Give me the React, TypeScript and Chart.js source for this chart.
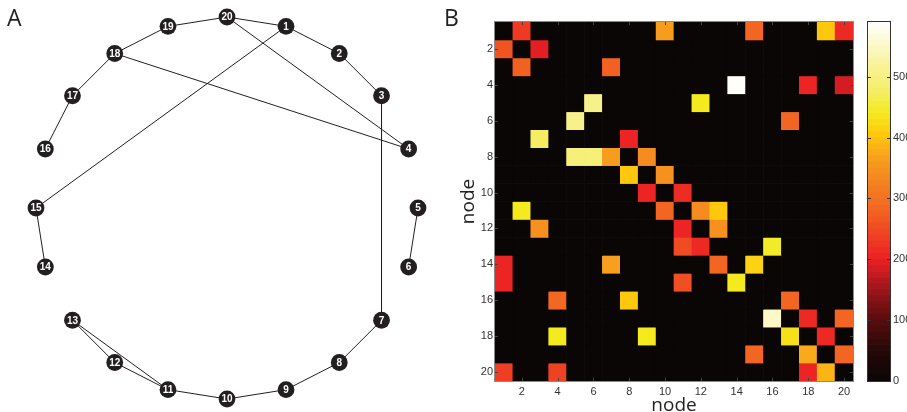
import React, { useEffect, useRef } from 'react';
import { Chart, registerables } from 'chart.js';

Chart.register(...registerables);

// ---------- Panel A: network (circular layout) ----------
const nodeNames = ['1', '2', '3', '4', '5', '6', '7', '8', '9', '10', '11', '12', '13', '14', '15', '16', '17', '18', '19', '20'];
const edgeSource = [20, 1, 2, 3, 7, 8, 9, 10, 11, 11, 12, 14, 15, 5, 16, 17, 18, 19, 20, 18];
const edgeTarget = [1, 2, 3, 7, 8, 9, 10, 11, 12, 13, 13, 15, 1, 6, 17, 18, 19, 20, 4, 4];

// ---------- Panel B: weight matrix (non-zero cells) ----------
const cellRow = [
  1, 1, 1, 1, 1,
  2, 2,
  3, 3,
  4, 4, 4,
  5, 5,
  6, 6,
  7, 7,
  8, 8, 8, 8,
  9, 9,
  10, 10,
  11, 11, 11, 11,
  12, 12, 12,
  13, 13, 13,
  14, 14, 14, 14,
  15, 15, 15,
  16, 16, 16,
  17, 17, 17,
  18, 18, 18, 18,
  19, 19, 19,
  20, 20, 20, 20,
];
const cellCol = [
  2, 10, 15, 19, 20,
  1, 3,
  2, 7,
  14, 18, 20,
  6, 12,
  5, 17,
  3, 8,
  5, 6, 7, 9,
  8, 10,
  9, 11,
  2, 10, 12, 13,
  3, 11, 13,
  11, 12, 16,
  1, 7, 13, 15,
  1, 11, 14,
  4, 8, 17,
  16, 18, 20,
  4, 9, 17, 19,
  15, 18, 20,
  1, 4, 18, 19,
];
const cellValue = [
  230, 360, 280, 405, 210,
  260, 195,
  275, 275,
  585, 205, 185,
  510, 440,
  510, 280,
  475, 205,
  490, 490, 360, 340,
  405, 345,
  205, 215,
  440, 280, 340, 405,
  345, 205, 345,
  250, 210, 445,
  205, 365, 280, 415,
  205, 255, 440,
  285, 405, 280,
  550, 210, 280,
  440, 440, 430, 210,
  280, 375, 280,
  235, 240, 205, 385,
];
const axisTickLabels = ['2', '4', '6', '8', '10', '12', '14', '16', '18', '20'];
const colorbarTicks = [0, 100, 200, 300, 400, 500];
const colorMax = 590;

// colormap stops: [value, r, g, b]
const colormapStops: number[][] = [
  [0, 10, 6, 6],
  [60, 45, 8, 8],
  [110, 100, 14, 16],
  [160, 170, 24, 30],
  [200, 236, 32, 36],
  [240, 239, 66, 35],
  [280, 242, 101, 34],
  [340, 246, 140, 31],
  [370, 248, 164, 28],
  [405, 255, 200, 13],
  [440, 244, 234, 30],
  [480, 245, 238, 110],
  [510, 247, 241, 140],
  [550, 252, 248, 200],
  [590, 255, 255, 255],
];

function heatColor(v: number): string {
  const s = colormapStops;
  if (v <= s[0][0]) return `rgb(${s[0][1]},${s[0][2]},${s[0][3]})`;
  for (let i = 1; i < s.length; i++) {
    if (v <= s[i][0]) {
      const t = (v - s[i - 1][0]) / (s[i][0] - s[i - 1][0]);
      const c = [1, 2, 3].map((k) => Math.round(s[i - 1][k] + t * (s[i][k] - s[i - 1][k])));
      return `rgb(${c[0]},${c[1]},${c[2]})`;
    }
  }
  const l = s[s.length - 1];
  return `rgb(${l[1]},${l[2]},${l[3]})`;
}

function nodePos(id: number) {
  const a = ((id % 20) * 18 * Math.PI) / 180;
  return { x: Math.sin(a), y: Math.cos(a) };
}

function cellWeight(r: number, c: number): number {
  for (let i = 0; i < cellRow.length; i++) {
    if (cellRow[i] === r && cellCol[i] === c) return cellValue[i];
  }
  return 0;
}

const tickFont = { family: "'Liberation Sans', Arial, sans-serif", size: 11 };
const titleFont = { family: "'Open Sans', sans-serif", size: 19, lineHeight: 1 };

export default function App() {
  const refA = useRef<HTMLCanvasElement>(null);
  const refB = useRef<HTMLCanvasElement>(null);
  const refC = useRef<HTMLCanvasElement>(null);

  useEffect(() => {
    const charts: Chart[] = [];

    // ---- Panel A ----
    const labelPlugin = {
      id: 'nodeLabels',
      afterDatasetsDraw(chart: any) {
        const ctx = chart.ctx;
        const meta = chart.getDatasetMeta(0);
        ctx.save();
        ctx.font = "bold 10px 'Liberation Sans', Arial, sans-serif";
        ctx.fillStyle = '#ffffff';
        ctx.textAlign = 'center';
        ctx.textBaseline = 'middle';
        meta.data.forEach((el: any, i: number) => {
          ctx.fillText(nodeNames[i], el.x, el.y + 0.5);
        });
        ctx.restore();
      },
    };
    const R = 191;
    const cx = 227;
    const cy = 208;
    const edgeDatasets = edgeSource.map((s, i) => ({
      data: [nodePos(s), nodePos(edgeTarget[i])],
      showLine: true,
      borderColor: '#231f20',
      borderWidth: 1,
      pointRadius: 0,
      pointHoverRadius: 0,
    }));
    charts.push(
      new Chart(refA.current as HTMLCanvasElement, {
        type: 'scatter',
        data: {
          datasets: [
            {
              data: nodeNames.map((_, i) => nodePos(i + 1)),
              pointRadius: 8.4,
              pointHoverRadius: 8.4,
              pointBackgroundColor: '#231f20',
              pointBorderWidth: 0,
              showLine: false,
              clip: false,
            } as any,
            ...(edgeDatasets as any[]),
          ],
        },
        options: {
          animation: false,
          responsive: false,
          events: [],
          layout: { padding: 0, autoPadding: false },
          scales: {
            x: { type: 'linear', display: false, min: -cx / R, max: (460 - cx) / R },
            y: { type: 'linear', display: false, min: -(412 - cy) / R, max: cy / R },
          },
          plugins: { legend: { display: false }, tooltip: { enabled: false } },
        },
        plugins: [labelPlugin],
      })
    );

    // ---- Panel B ----
    const boxPlugin = {
      id: 'heatBox',
      afterDraw(chart: any) {
        const { ctx, chartArea } = chart;
        const { left, top, right, bottom } = chartArea;
        ctx.save();
        ctx.strokeStyle = '#444';
        ctx.lineWidth = 1;
        const xs = chart.scales.x;
        const ys = chart.scales.y;
        axisTickLabels.forEach((l) => {
          const v = Number(l);
          const px = Math.round(xs.getPixelForValue(v - 1)) + 0.5;
          ctx.beginPath();
          ctx.moveTo(px, bottom);
          ctx.lineTo(px, bottom - 3);
          ctx.moveTo(px, top);
          ctx.lineTo(px, top + 3);
          ctx.stroke();
          const py = Math.round(ys.getPixelForValue(v)) + 0.5;
          ctx.beginPath();
          ctx.moveTo(left, py);
          ctx.lineTo(left + 3, py);
          ctx.moveTo(right, py);
          ctx.lineTo(right - 3, py);
          ctx.stroke();
        });
        ctx.strokeStyle = '#8a8a8a';
        ctx.strokeRect(left - 0.5, top - 0.5, right - left + 1, bottom - top + 1);
        ctx.restore();
      },
    };
    const heatDatasets = nodeNames.map((_, ri) => {
      const r = ri + 1;
      return {
        data: nodeNames.map(() => [r - 0.5, r + 0.5]),
        backgroundColor: nodeNames.map((__, ci) => heatColor(cellWeight(r, ci + 1))),
        borderWidth: 0,
        grouped: false,
        barPercentage: 1,
        categoryPercentage: 1,
      };
    });
    charts.push(
      new Chart(refB.current as HTMLCanvasElement, {
        type: 'bar',
        data: { labels: nodeNames, datasets: heatDatasets as any },
        options: {
          animation: false,
          responsive: false,
          events: [],
          layout: { padding: { top: 22, right: 7, left: 0, bottom: 0 } },
          scales: {
            x: {
              type: 'category',
              grid: { display: false, drawTicks: false },
              border: { display: false },
              ticks: {
                autoSkip: false,
                maxRotation: 0,
                minRotation: 0,
                padding: 4,
                font: tickFont,
                color: '#333',
                callback: (_v: any, i: number) => (axisTickLabels.includes(nodeNames[i]) ? nodeNames[i] : ''),
              },
              title: { display: true, text: 'node', font: titleFont, color: '#222', padding: { top: 0, bottom: -3 } },
              afterFit: (s: any) => {
                s.height = 31;
              },
            },
            y: {
              type: 'linear',
              reverse: true,
              min: 0.5,
              max: 20.5,
              grid: { display: false, drawTicks: false },
              border: { display: false },
              afterBuildTicks: (s: any) => {
                s.ticks = axisTickLabels.map((l) => ({ value: Number(l) }));
              },
              ticks: { padding: 2, font: tickFont, color: '#333', callback: (v: any) => String(v) },
              title: { display: true, text: 'node', font: titleFont, color: '#222', padding: { top: -1, bottom: 0 } },
              afterFit: (s: any) => {
                s.width = 35;
              },
            },
          },
          plugins: { legend: { display: false }, tooltip: { enabled: false } },
        },
        plugins: [boxPlugin],
      })
    );

    // ---- Colorbar ----
    const steps = 59;
    const stepSize = colorMax / steps;
    const barDatasets = Array.from({ length: steps }, (_, k) => ({
      data: [[k * stepSize, (k + 1) * stepSize]],
      backgroundColor: heatColor((k + 0.5) * stepSize),
      borderWidth: 0,
      grouped: false,
      barPercentage: 1,
      categoryPercentage: 1,
    }));
    const cbPlugin = {
      id: 'cbBox',
      afterDraw(chart: any) {
        const { ctx, chartArea } = chart;
        const { left, top, right, bottom } = chartArea;
        const ys = chart.scales.y;
        ctx.save();
        ctx.strokeStyle = '#333';
        ctx.lineWidth = 1;
        colorbarTicks.forEach((v) => {
          if (v === 0) return;
          const py = Math.round(ys.getPixelForValue(v)) + 0.5;
          ctx.beginPath();
          ctx.moveTo(left, py);
          ctx.lineTo(left + 3, py);
          ctx.moveTo(right, py);
          ctx.lineTo(right - 3, py);
          ctx.stroke();
        });
        ctx.strokeRect(left - 0.5, top - 0.5, right - left + 1, bottom - top + 1);
        ctx.restore();
      },
    };
    charts.push(
      new Chart(refC.current as HTMLCanvasElement, {
        type: 'bar',
        data: { labels: [''], datasets: barDatasets as any },
        options: {
          animation: false,
          responsive: false,
          events: [],
          layout: { padding: { top: 22, right: 0, left: 8, bottom: 31 } },
          scales: {
            x: { display: false },
            y: {
              position: 'right',
              min: 0,
              max: colorMax,
              grid: { display: false, drawTicks: false },
              border: { display: false },
              afterBuildTicks: (s: any) => {
                s.ticks = colorbarTicks.map((v) => ({ value: v }));
              },
              ticks: { padding: 3, font: tickFont, color: '#333' },
              afterFit: (s: any) => {
                s.width = 17;
              },
            },
          },
          plugins: { legend: { display: false }, tooltip: { enabled: false } },
        },
        plugins: [cbPlugin],
      })
    );

    return () => {
      charts.forEach((c) => c.destroy());
    };
  }, []);

  const letterStyle: React.CSSProperties = {
    position: 'absolute',
    top: 6,
    fontFamily: "'Open Sans', sans-serif",
    fontSize: 23,
    lineHeight: 1,
    color: '#231f20',
  };

  return (
    <div style={{ position: 'fixed', left: 0, top: 0, width: 907, height: 412, background: '#fff', overflow: 'hidden' }}>
      <canvas ref={refA} width={460} height={412} style={{ position: 'absolute', left: 0, top: 0, width: 460, height: 412 }} />
      <canvas ref={refB} width={400} height={412} style={{ position: 'absolute', left: 460, top: 0, width: 400, height: 412 }} />
      <canvas ref={refC} width={47} height={412} style={{ position: 'absolute', left: 860, top: 0, width: 47, height: 412 }} />
      <div style={{ ...letterStyle, left: 7 }}>A</div>
      <div style={{ ...letterStyle, left: 444 }}>B</div>
    </div>
  );
}
